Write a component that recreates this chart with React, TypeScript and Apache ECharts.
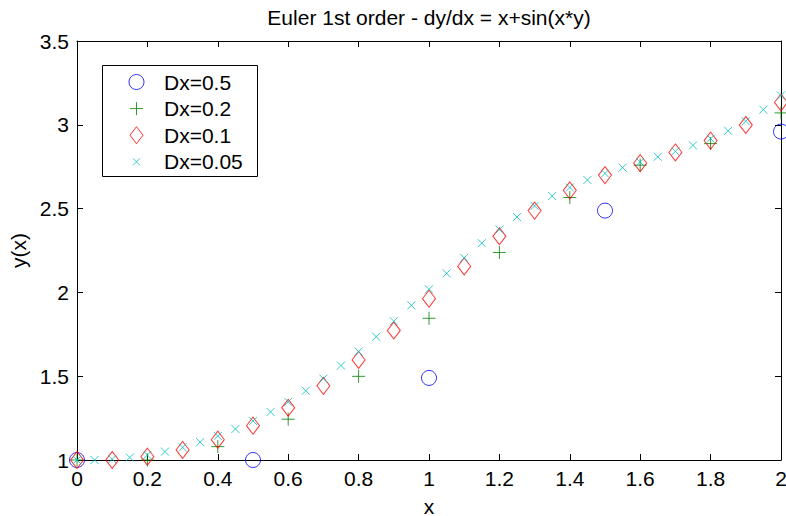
import React, { useEffect, useRef } from "react";
import * as echarts from "echarts";

const titleText = "Euler 1st order - dy/dx = x+sin(x*y)";
const seriesNames = ["Dx=0.5", "Dx=0.2", "Dx=0.1", "Dx=0.05"];

const x05 = [0, 0.5, 1, 1.5, 2];
const y05 = [1, 1, 1.4897, 2.4881, 2.9597];

const x02 = [0, 0.2, 0.4, 0.6, 0.8, 1, 1.2, 1.4, 1.6, 1.8, 2];
const y02 = [1, 1, 1.0797, 1.2435, 1.4992, 1.8456, 2.2381, 2.5662, 2.759, 2.8878, 3.0709];

const x01 = [0, 0.1, 0.2, 0.3, 0.4, 0.5, 0.6, 0.7, 0.8, 0.9, 1, 1.1, 1.2, 1.3, 1.4, 1.5, 1.6, 1.7, 1.8, 1.9, 2];
const y01 = [1, 1, 1.02, 1.0602, 1.1215, 1.2049, 1.3116, 1.4424, 1.5971, 1.7728, 1.9628, 2.1552, 2.3349, 2.4882, 2.6089, 2.7, 2.7711, 2.835, 2.9056, 2.9987, 3.1334];

const x005 = [0, 0.05, 0.1, 0.15, 0.2, 0.25, 0.3, 0.35, 0.4, 0.45, 0.5, 0.55, 0.6, 0.65, 0.7, 0.75, 0.8, 0.85, 0.9, 0.95, 1, 1.05, 1.1, 1.15, 1.2, 1.25, 1.3, 1.35, 1.4, 1.45, 1.5, 1.55, 1.6, 1.65, 1.7, 1.75, 1.8, 1.85, 1.9, 1.95, 2];
const y005 = [1, 1, 1.005, 1.015, 1.0301, 1.0503, 1.0758, 1.1067, 1.1431, 1.1851, 1.2331, 1.287, 1.347, 1.4131, 1.4854, 1.5635, 1.6471, 1.7355, 1.8277, 1.9226, 2.0185, 2.1135, 2.2059, 2.2937, 2.3753, 2.4497, 2.5162, 2.5747, 2.6258, 2.6703, 2.7095, 2.7446, 2.7773, 2.8091, 2.8417, 2.8771, 2.9172, 2.9642, 3.0209, 3.09, 3.1748];

const xTicks = { min: 0, max: 2, interval: 0.2 };
const yTicks = { min: 1, max: 3.5, interval: 0.5 };

const FONT = "'Liberation Sans', Arial, Helvetica, sans-serif";

const pair = (xs: number[], ys: number[]) => xs.map((x, i) => [x, ys[i]]);

export default function App() {
  const ref = useRef<HTMLDivElement>(null);
  useEffect(() => {
    if (!ref.current) return;
    const chart = echarts.init(ref.current, null, { renderer: "svg" });
    const axisCommon = {
      type: "value" as const,
      axisLine: { show: true, onZero: false, lineStyle: { color: "#000", width: 1 } },
      axisTick: { show: true, inside: true, length: 6, lineStyle: { color: "#000", width: 1 } },
      splitLine: { show: false },
    };
    const labelStyle = { color: "#000", fontSize: 21, fontFamily: FONT };
    const plusPath = "path://M0,6.5L13,6.5M6.5,0L6.5,13";
    const crossPath = "path://M0,0L8,8M8,0L0,8";
    const legendCircle = "path://M0,0M17,17M8.5,1A7.5,7.5,0,1,1,8.49,1Z";
    const legendPlus = "path://M0,0M17,17M2,8.5L15,8.5M8.5,2L8.5,15";
    const legendDiamond = "path://M0,0M17,17M8.5,0L15,8.5L8.5,17L2,8.5Z";
    const legendCross = "path://M0,0M17,17M5,5L12,12M12,5L5,12";
    chart.setOption({
      animation: false,
      backgroundColor: "#fff",
      grid: { left: 77, right: 5, top: 41, bottom: 56, containLabel: false, outerBoundsMode: "none" },
      xAxis: [
        {
          ...axisCommon,
          ...xTicks,
          position: "bottom",
          name: "x",
          nameLocation: "middle",
          nameGap: 39,
          nameTextStyle: { ...labelStyle, lineHeight: 14 },
          axisLabel: { ...labelStyle, margin: 8 },
        },
        {
          ...axisCommon,
          ...xTicks,
          position: "top",
          axisLabel: { show: false },
        },
      ],
      yAxis: [
        {
          ...axisCommon,
          ...yTicks,
          position: "left",
          name: "y(x)",
          nameLocation: "middle",
          nameGap: 44,
          nameRotate: 90,
          nameTextStyle: labelStyle,
          axisLabel: { ...labelStyle, margin: 8 },
        },
        {
          ...axisCommon,
          ...yTicks,
          position: "right",
          axisLabel: { show: false },
        },
      ],
      legend: {
        orient: "vertical",
        left: 127.5,
        top: 71.5,
        itemWidth: 17,
        itemHeight: 17,
        itemGap: 5.6,
        padding: 0,
        z: 10,
        selectedMode: false,
        itemStyle: { borderWidth: 1 },
        textStyle: { ...labelStyle, padding: [0, 0, 0, 14] },
        data: [
          { name: seriesNames[0], icon: legendCircle },
          { name: seriesNames[1], icon: legendPlus },
          { name: seriesNames[2], icon: legendDiamond },
          { name: seriesNames[3], icon: legendCross },
        ],
      },
      graphic: [
        {
          type: "text",
          x: 429,
          y: 17,
          style: { text: titleText, fill: "#000", font: `21px ${FONT}`, align: "center", verticalAlign: "middle" },
        },
        {
          type: "rect",
          z: 5,
          shape: { x: 102.5, y: 65.5, width: 155, height: 111 },
          style: { fill: "#fff", stroke: "#000", lineWidth: 1 },
        },
      ],
      series: [
        {
          name: seriesNames[0],
          type: "scatter",
          data: pair(x05, y05),
          symbol: "circle",
          symbolSize: 15,
          itemStyle: { color: "transparent", borderColor: "#0000ff", borderWidth: 1 },
        },
        {
          name: seriesNames[1],
          type: "scatter",
          data: pair(x02, y02),
          symbol: plusPath,
          symbolSize: 13,
          itemStyle: { color: "transparent", borderColor: "#008000", borderWidth: 1 },
        },
        {
          name: seriesNames[2],
          type: "scatter",
          data: pair(x01, y01),
          symbol: "diamond",
          symbolSize: [13, 17],
          itemStyle: { color: "transparent", borderColor: "#ff0000", borderWidth: 1 },
        },
        {
          name: seriesNames[3],
          type: "scatter",
          data: pair(x005, y005),
          symbol: crossPath,
          symbolSize: 8,
          itemStyle: { color: "transparent", borderColor: "#00bfbf", borderWidth: 1 },
        },
      ],
    });
    return () => chart.dispose();
  }, []);
  return (
    <div
      ref={ref}
      style={{ position: "fixed", left: 0, top: 0, width: 786, height: 516 }}
    />
  );
}
